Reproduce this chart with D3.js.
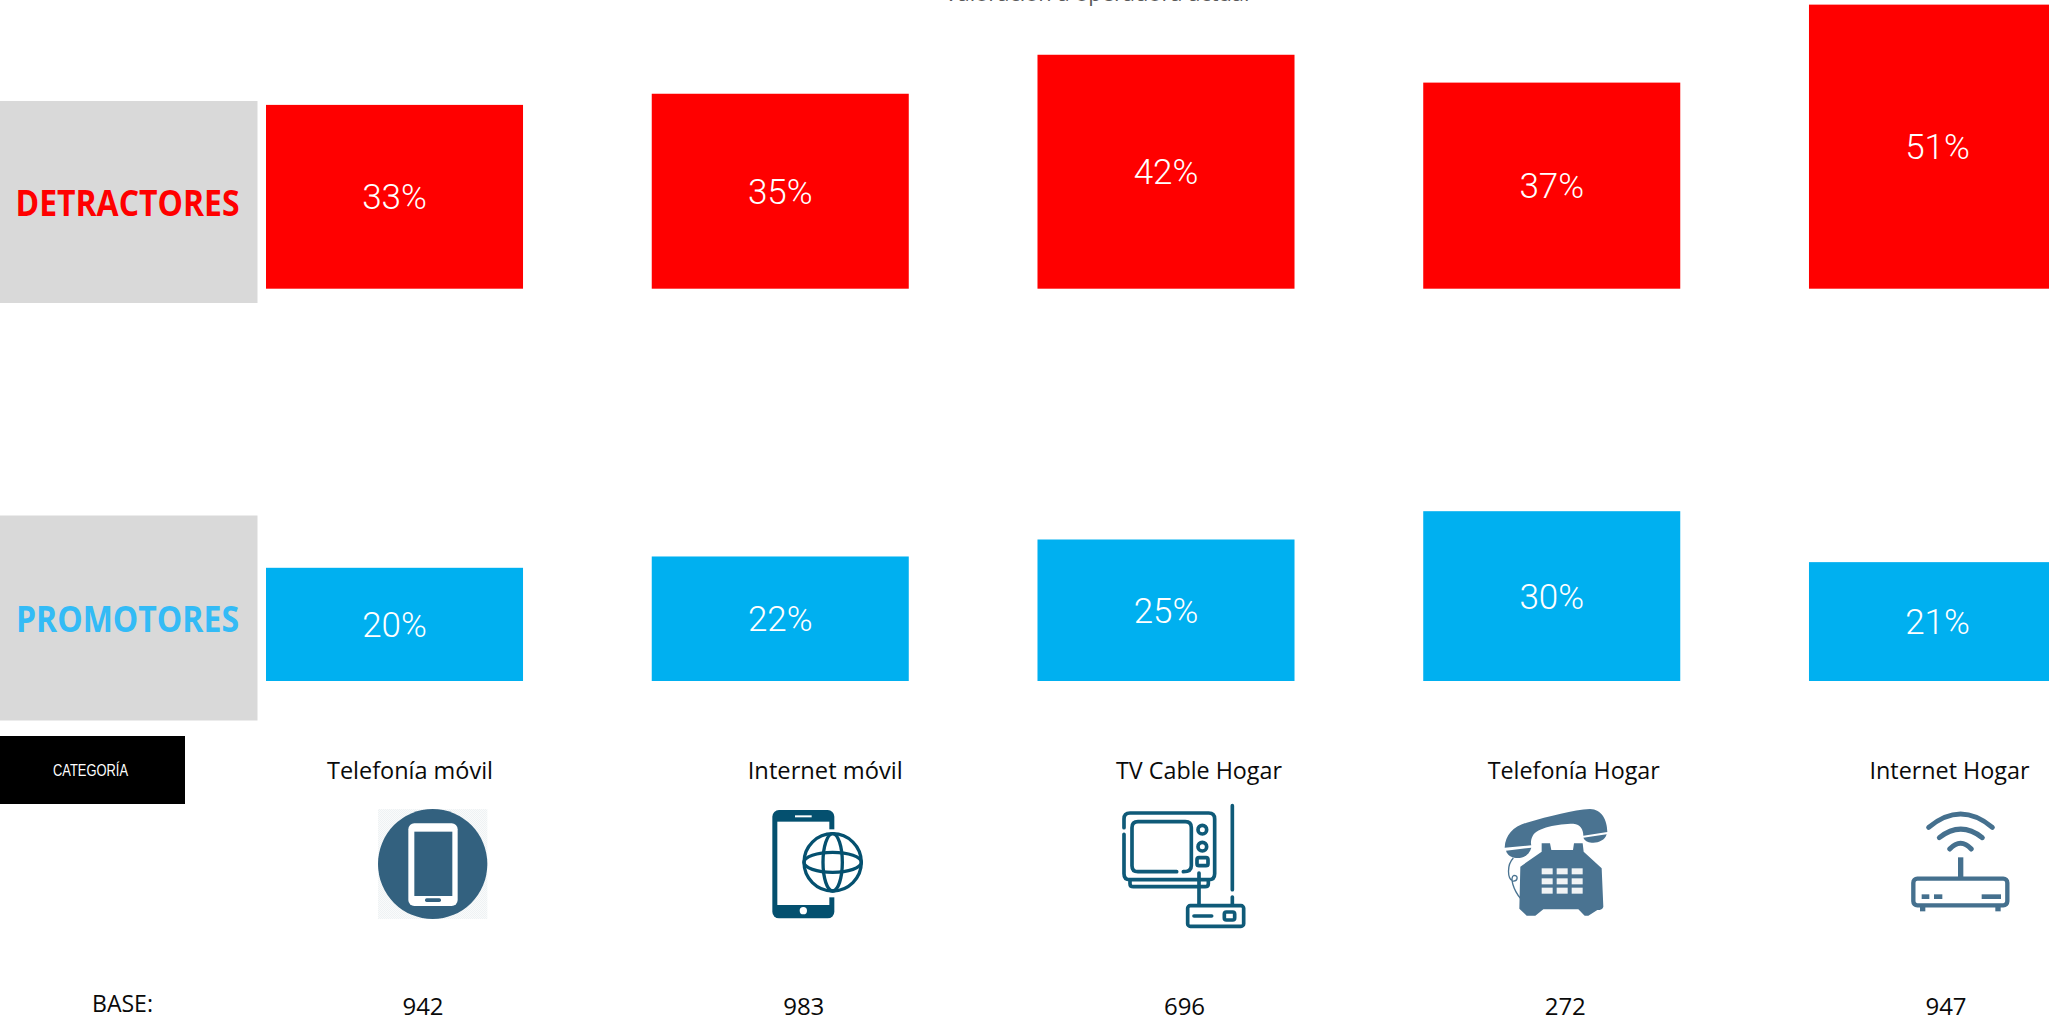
<!DOCTYPE html>
<html lang="es">
<head>
<meta charset="utf-8">
<title>Detractores y promotores por categoría</title>
<script src="https://cdn.jsdelivr.net/npm/d3@7/dist/d3.min.js"></script>
<style>
  html, body { margin: 0; padding: 0; background: #fff; overflow: hidden; }
  svg { display: block; }
  .body-font { font-family: "Open Sans", "Noto Sans", sans-serif; }
  .pct { font-family: Roboto, "Liberation Sans", sans-serif; font-weight: 300; fill: #fff; font-size: 35px; }
</style>
</head>
<body>
<svg id="chart" width="2049" height="1018"></svg>
<script>
// Values per service category
const categories = ["Telefonía móvil", "Internet móvil", "TV Cable Hogar", "Telefonía Hogar", "Internet Hogar"];
const detractores = [33, 35, 42, 37, 51];
const promotores = [20, 22, 25, 30, 21];
const bases = [942, 983, 696, 272, 947];
const pctLabels = ["33%", "35%", "42%", "37%", "51%"];
const promoLabels = ["20%", "22%", "25%", "30%", "21%"];

// Layout: the two rows share the x bands, each has its own baseline and slope
const width = 2049, height = 1018;
const svg = d3.select("#chart");

const x = d3.scaleBand().domain(categories).range([266, 2066]).paddingInner(0.3337).paddingOuter(0);
const yDet = d3.scaleLinear().domain([0, 100]).range([288.7, 288.7 - 557]);
const yPro = d3.scaleLinear().domain([0, 100]).range([681, 681 - 566]);

const labelNudge = [15.5, 45, 33, 22, 12];
const labelWidth = [166, 155, 166, 172, 160];
const baseX = d3.scalePoint().domain(categories).range([423, 1946]);

function fitted(sel, len) {
  return sel.attr("textLength", len).attr("lengthAdjust", "spacingAndGlyphs");
}

// Partly cropped heading at the very top edge
fitted(svg.append("text").attr("class", "body-font")
  .attr("x", 1097).attr("y", 0.5).attr("text-anchor", "middle")
  .attr("font-size", 22).attr("fill", "#595959")
  .text("Valoración a operadora actual"), 305);

// Grey row headers
const rows = [
  { name: "DETRACTORES", colour: "#ff0000", top: 101, bottom: 303, base: 216, len: 224 },
  { name: "PROMOTORES", colour: "#33bbf6", top: 515.5, bottom: 720.5, base: 632, len: 223 }
];
rows.forEach(r => {
  svg.append("rect").attr("x", 0).attr("y", r.top).attr("width", 257.5)
    .attr("height", r.bottom - r.top).attr("fill", "#d9d9d9");
  fitted(svg.append("text").attr("class", "body-font")
    .attr("x", 127.5).attr("y", r.base).attr("text-anchor", "middle")
    .attr("font-size", 35).attr("font-weight", 700).attr("fill", r.colour)
    .text(r.name), r.len);
});

// Bars with centred percentage labels
function drawRow(values, labels, y, colour) {
  const g = svg.append("g");
  g.selectAll("rect").data(values).join("rect")
    .attr("x", (d, i) => x(categories[i]))
    .attr("y", d => y(d))
    .attr("width", x.bandwidth())
    .attr("height", d => y(0) - y(d))
    .attr("fill", colour);
  g.selectAll("text").data(values).join("text")
    .attr("class", "pct")
    .attr("x", (d, i) => x(categories[i]) + x.bandwidth() / 2)
    .attr("y", d => (y(0) + y(d)) / 2 + 12.5)
    .attr("text-anchor", "middle")
    .text((d, i) => labels[i]);
}
drawRow(detractores, pctLabels, yDet, "#ff0000");
drawRow(promotores, promoLabels, yPro, "#00b0f0");

// Black category tag
svg.append("rect").attr("x", 0).attr("y", 736).attr("width", 185).attr("height", 68).attr("fill", "#000");
fitted(svg.append("text").attr("x", 90.5).attr("y", 775.5).attr("text-anchor", "middle")
  .attr("font-family", "'Liberation Sans', Arial, sans-serif").attr("font-size", 16).attr("fill", "#fff")
  .text("CATEGORÍA"), 75);

// Category names
svg.append("g").selectAll("text").data(categories).join("text")
  .attr("class", "body-font")
  .attr("x", (d, i) => x(d) + x.bandwidth() / 2 + labelNudge[i])
  .attr("y", 779).attr("text-anchor", "middle").attr("font-size", 23.5).attr("fill", "#0a0a0a")
  .attr("textLength", (d, i) => labelWidth[i]).attr("lengthAdjust", "spacingAndGlyphs")
  .text(d => d);

// Base row
fitted(svg.append("text").attr("class", "body-font").attr("x", 122.5).attr("y", 1012)
  .attr("text-anchor", "middle").attr("font-size", 24).attr("fill", "#0a0a0a").text("BASE:"), 61);
svg.append("g").selectAll("text").data(bases).join("text")
  .attr("class", "body-font")
  .attr("x", (d, i) => baseX(categories[i])).attr("y", 1015)
  .attr("text-anchor", "middle").attr("font-size", 24).attr("fill", "#0a0a0a")
  .text(d => d);

// Pictograms, each drawn in a local 3x grid
function icon(px, py) {
  return svg.append("g").attr("transform", `translate(${px},${py}) scale(${1 / 3})`);
}

// Smartphone in a disc
(function () {
  const g = icon(370, 800), c = "#33617f";
  const defs = svg.append("defs");
  const p = defs.append("pattern").attr("id", "checker").attr("width", 6).attr("height", 6)
    .attr("patternUnits", "userSpaceOnUse");
  p.append("rect").attr("width", 6).attr("height", 6).attr("fill", "#fafbfb");
  p.append("rect").attr("width", 3).attr("height", 3).attr("fill", "#eef2f4");
  p.append("rect").attr("x", 3).attr("y", 3).attr("width", 3).attr("height", 3).attr("fill", "#eef2f4");
  g.append("rect").attr("x", 24).attr("y", 27).attr("width", 328).attr("height", 330).attr("fill", "url(#checker)");
  g.append("ellipse").attr("cx", 188).attr("cy", 192).attr("rx", 164).attr("ry", 165).attr("fill", c);
  g.append("rect").attr("x", 115).attr("y", 70).attr("width", 148).attr("height", 248).attr("rx", 18).attr("fill", "#fff");
  g.append("rect").attr("x", 133).attr("y", 95).attr("width", 114).attr("height", 193).attr("fill", c);
  g.append("rect").attr("x", 165).attr("y", 295).attr("width", 48).attr("height", 11).attr("rx", 5).attr("fill", c);
})();

// Smartphone with a globe
(function () {
  const g = icon(760, 800), c = "#04506f";
  g.append("rect").attr("x", 37).attr("y", 30).attr("width", 186).attr("height", 325).attr("rx", 20).attr("fill", c);
  g.append("rect").attr("x", 52).attr("y", 65).attr("width", 156).attr("height", 250).attr("fill", "#fff");
  g.append("rect").attr("x", 105).attr("y", 46).attr("width", 50).attr("height", 6).attr("fill", "#fff");
  g.append("circle").attr("cx", 130).attr("cy", 332).attr("r", 11).attr("fill", "#fff");
  g.append("rect").attr("x", 205).attr("y", 88).attr("width", 22).attr("height", 204).attr("fill", "#fff");
  const s = { fill: "none", stroke: c, "stroke-width": 10 };
  const add = (tag, a) => { const e = g.append(tag); Object.entries({ ...s, ...a }).forEach(([k, v]) => e.attr(k, v)); return e; };
  add("circle", { cx: 218, cy: 187, r: 86, fill: "#fff" });
  add("ellipse", { cx: 218, cy: 187, rx: 29, ry: 86 });
  add("ellipse", { cx: 218, cy: 187, rx: 86, ry: 30 });
})();

// Television with a set-top box
(function () {
  const g = icon(1110, 795), c = "#0f5a78";
  const s = g.append("g").attr("fill", "none").attr("stroke", c).attr("stroke-width", 11)
    .attr("stroke-linecap", "round").attr("stroke-linejoin", "round");
  s.append("path").attr("d", "M42 98V72Q42 54 60 54H296Q314 54 314 72V236Q314 254 296 254H60Q42 254 42 236V118");
  s.append("path").attr("d", "M200 230H84Q66 230 66 212V98Q66 80 84 80H226Q244 80 244 98V212Q244 230 220 230");
  s.append("circle").attr("cx", 277).attr("cy", 104).attr("r", 13);
  s.append("circle").attr("cx", 277).attr("cy", 155).attr("r", 13);
  s.append("rect").attr("x", 261).attr("y", 188).attr("width", 33).attr("height", 24).attr("rx", 6);
  s.append("path").attr("d", "M60 256V266Q60 275 70 275H285Q295 275 295 266V256");
  s.append("path").attr("d", "M367 32V284M367 306V330M267 234V330");
  s.append("rect").attr("x", 233).attr("y", 332).attr("width", 168).attr("height", 62).attr("rx", 8);
  s.append("path").attr("d", "M252 363H305");
  s.append("rect").attr("x", 343).attr("y", 351).attr("width", 31).attr("height", 24).attr("rx", 6);
})();

// Desk telephone
(function () {
  const g = icon(1490, 800), c = "#4a7391";
  g.append("path").attr("fill", c).attr("d",
    "M44 143C46 105 70 80 110 68C180 48 250 30 300 27C335 28 352 60 352 96L280 107C280 90 272 72 250 71C205 72 140 82 128 108C122 120 122 130 124 136Z");
  g.append("path").attr("fill", c).attr("d", "M280 113L350 103C345 122 322 130 305 128C292 127 284 122 280 113Z");
  g.append("path").attr("fill", c).attr("d", "M48 152L124 143C118 165 98 176 78 174C62 172 52 164 48 152Z");
  g.append("path").attr("fill", c).attr("d",
    "M155 130H180L184 150H249L252 130H278L281 155L335 205L340 320Q338 330 322 330L295 347H284L265 328H160L136 347H110L88 326L91 200L155 155Z");
  g.append("path").attr("fill", "none").attr("stroke", c).attr("stroke-width", 4)
    .attr("d", "M70 174C50 195 52 235 68 243C84 245 86 226 72 226C58 230 70 270 92 296");
  const keys = g.append("g").attr("fill", "#f0f3f5");
  [155, 200, 245].forEach(kx => [205, 235, 263].forEach(ky => {
    keys.append("rect").attr("x", kx).attr("y", ky).attr("width", 33).attr("height", 18);
  }));
})();

// Wi-Fi router
(function () {
  const g = icon(1890, 800), c = "#45708e";
  const s = g.append("g").attr("fill", "none").attr("stroke", c).attr("stroke-linecap", "round");
  s.append("path").attr("stroke-width", 15).attr("d", "M116 82Q212 2 307 82");
  s.append("path").attr("stroke-width", 15).attr("d", "M148 113Q212 62 277 113");
  s.append("path").attr("stroke-width", 15).attr("d", "M179 147Q212 112 244 147");
  g.append("rect").attr("x", 204).attr("y", 172).attr("width", 16).attr("height", 66).attr("fill", c);
  g.append("rect").attr("x", 70).attr("y", 236).attr("width", 282).attr("height", 80).attr("rx", 12)
    .attr("fill", "none").attr("stroke", c).attr("stroke-width", 13);
  [[95, 23], [132, 25], [275, 58]].forEach(([lx, lw]) => {
    g.append("rect").attr("x", lx).attr("y", 283).attr("width", lw).attr("height", 14).attr("fill", c);
  });
  [90, 316].forEach(fx => {
    g.append("rect").attr("x", fx).attr("y", 318).attr("width", 16).attr("height", 16).attr("fill", c);
  });
})();
</script>
</body>
</html>
